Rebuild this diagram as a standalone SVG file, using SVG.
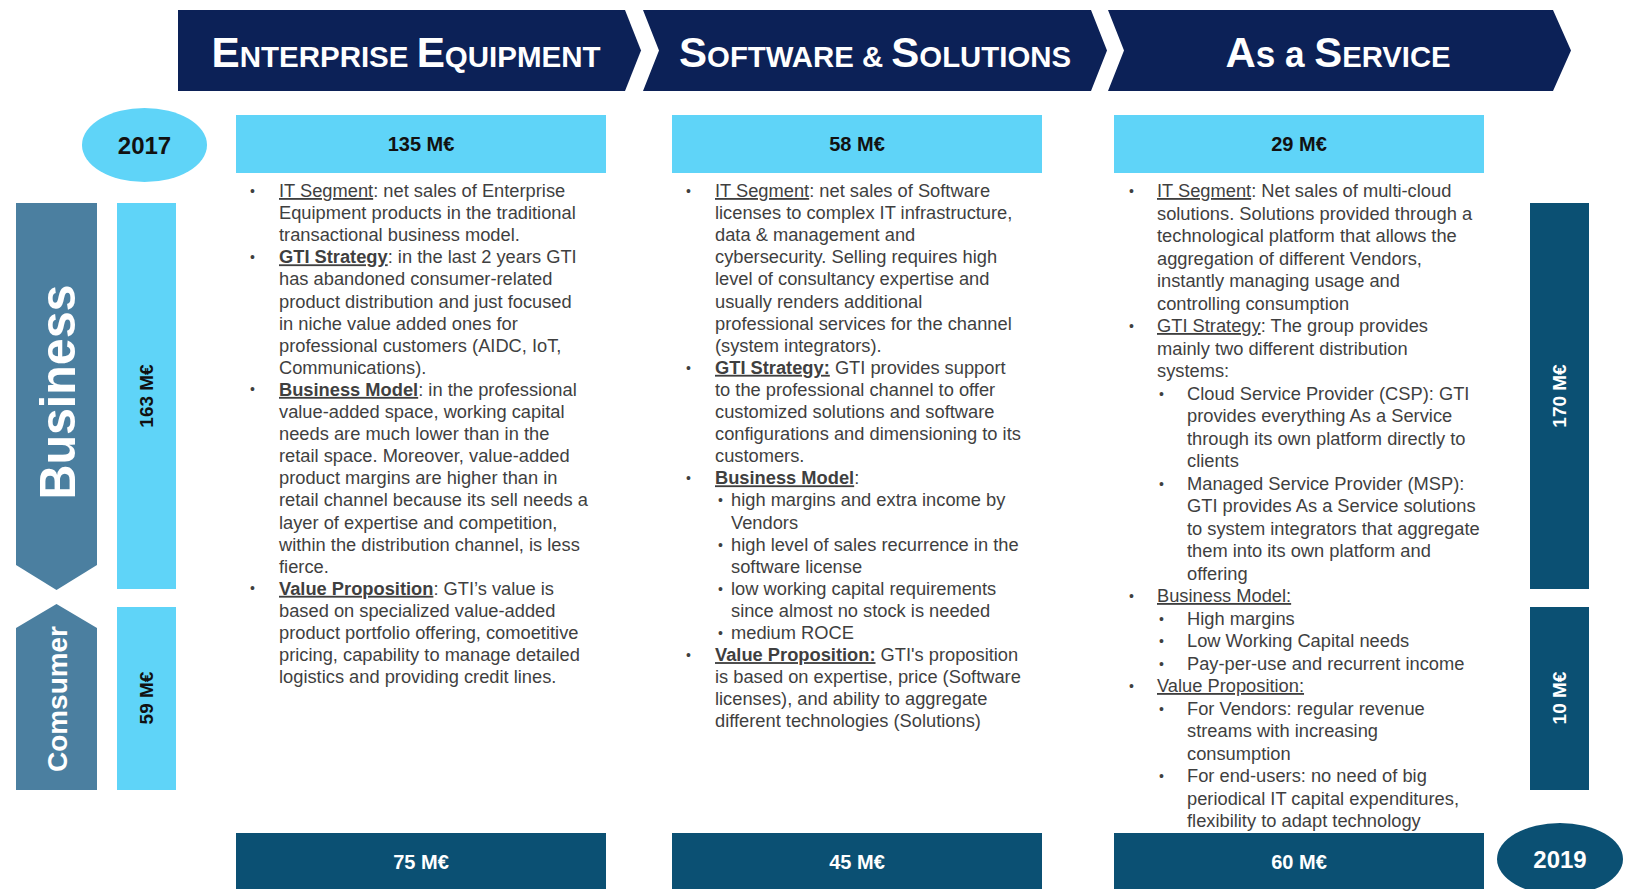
<svg xmlns="http://www.w3.org/2000/svg" width="1625" height="889" viewBox="0 0 1625 889">
<style>
text{font-family:"Liberation Sans",Arial,sans-serif}
.nav{fill:#0c2157}
.lb{fill:#5fd4f8}
.dk{fill:#0b5073}
.sb{fill:#4b7fa0}
.hd{fill:#fff;font-weight:bold}
.big{font-size:43px}
.sm{font-size:30px}
.val{font-size:20px;font-weight:bold;text-anchor:middle}
.vb{font-size:19px;font-weight:bold;text-anchor:middle}
.body{font-size:18.3px;fill:#3f3f3f}
.u{text-decoration:underline}
.b{font-weight:bold}
.bul{font-size:14px;fill:#3f3f3f}
</style>

<g id="banners">
  <g id="banner-enterprise">
    <polygon class="nav" points="178,10 625,10 641,50.5 625,91 178,91"/>
    <text class="hd" x="406" y="67" text-anchor="middle" textLength="389" lengthAdjust="spacingAndGlyphs"><tspan class="big">E</tspan><tspan class="sm">NTERPRISE </tspan><tspan class="big">E</tspan><tspan class="sm">QUIPMENT</tspan></text>
  </g>
  <g id="banner-software">
    <polygon class="nav" points="643,10 1091,10 1107,50.5 1091,91 643,91 659,50.5"/>
    <text class="hd" x="875" y="67" text-anchor="middle" textLength="392" lengthAdjust="spacingAndGlyphs"><tspan class="big">S</tspan><tspan class="sm">OFTWARE &amp; </tspan><tspan class="big">S</tspan><tspan class="sm">OLUTIONS</tspan></text>
  </g>
  <g id="banner-service">
    <polygon class="nav" points="1108,10 1553,10 1571,50.5 1553,91 1108,91 1124,50.5"/>
    <text class="hd" x="1338" y="67" text-anchor="middle" textLength="225" lengthAdjust="spacingAndGlyphs"><tspan class="big">A</tspan><tspan font-size="36px">s a </tspan><tspan class="big">S</tspan><tspan class="sm">ERVICE</tspan></text>
  </g>
</g>

<g id="year-2017">
  <ellipse class="lb" cx="144.5" cy="145" rx="62.5" ry="37"/>
  <text x="144.5" y="154" font-size="24" font-weight="bold" fill="#111" text-anchor="middle">2017</text>
</g>
<g id="year-2019">
  <ellipse class="dk" cx="1560" cy="859" rx="63" ry="36"/>
  <text x="1560" y="868" font-size="24" font-weight="bold" fill="#fff" text-anchor="middle">2019</text>
</g>

<g id="top-values">
  <g id="v135"><rect class="lb" x="236" y="115" width="370" height="58"/><text class="val" x="421" y="151" fill="#111">135 M€</text></g>
  <g id="v58"><rect class="lb" x="672" y="115" width="370" height="58"/><text class="val" x="857" y="151" fill="#111">58 M€</text></g>
  <g id="v29"><rect class="lb" x="1114" y="115" width="370" height="58"/><text class="val" x="1299" y="151" fill="#111">29 M€</text></g>
</g>

<g id="bottom-values">
  <g id="v75"><rect class="dk" x="236" y="833" width="370" height="56"/><text class="val" x="421" y="869" fill="#fff">75 M€</text></g>
  <g id="v45"><rect class="dk" x="672" y="833" width="370" height="56"/><text class="val" x="857" y="869" fill="#fff">45 M€</text></g>
  <g id="v60"><rect class="dk" x="1114" y="833" width="370" height="56"/><text class="val" x="1299" y="869" fill="#fff">60 M€</text></g>
</g>

<g id="segment-business">
  <polygon class="sb" points="16,203 97,203 97,565 56.5,590 16,565"/>
  <text transform="translate(75,392) rotate(-90)" x="0" y="0" font-size="50" font-weight="bold" fill="#fff" text-anchor="middle" textLength="215" lengthAdjust="spacingAndGlyphs">Business</text>
</g>
<g id="segment-consumer">
  <polygon class="sb" points="56.5,604 97,628 97,790 16,790 16,628"/>
  <text transform="translate(67,699) rotate(-90)" x="0" y="0" font-size="28" font-weight="bold" fill="#fff" text-anchor="middle" textLength="146" lengthAdjust="spacingAndGlyphs">Comsumer</text>
</g>

<g id="bar-163">
  <rect class="lb" x="117" y="203" width="59" height="386"/>
  <text class="vb" transform="translate(153,396) rotate(-90)" fill="#111">163 M€</text>
</g>
<g id="bar-59">
  <rect class="lb" x="117" y="607" width="59" height="183"/>
  <text class="vb" transform="translate(153,698) rotate(-90)" fill="#111">59 M€</text>
</g>
<g id="bar-170">
  <rect class="dk" x="1530" y="203" width="59" height="386"/>
  <text class="vb" transform="translate(1566,396) rotate(-90)" fill="#fff">170 M€</text>
</g>
<g id="bar-10">
  <rect class="dk" x="1530" y="607" width="59" height="183"/>
  <text class="vb" transform="translate(1566,698) rotate(-90)" fill="#fff">10 M€</text>
</g>

<g id="col-enterprise" class="body">
  <text class="bul" x="250" y="196">•</text>
  <text class="bul" x="250" y="262">•</text>
  <text class="bul" x="250" y="394">•</text>
  <text class="bul" x="250" y="593">•</text>
  <text class="body" x="279" y="197"><tspan class="u">IT Segment</tspan>: net sales of Enterprise</text>
  <text class="body" x="279" y="219.1">Equipment products in the traditional</text>
  <text class="body" x="279" y="241.2">transactional business model.</text>
  <text class="body" x="279" y="263.3"><tspan class="u b">GTI Strategy</tspan>: in the last 2 years GTI</text>
  <text class="body" x="279" y="285.4">has abandoned consumer-related</text>
  <text class="body" x="279" y="307.5">product distribution and just focused</text>
  <text class="body" x="279" y="329.6">in niche value added ones for</text>
  <text class="body" x="279" y="351.7">professional customers (AIDC, IoT,</text>
  <text class="body" x="279" y="373.8">Communications).</text>
  <text class="body" x="279" y="395.9"><tspan class="u b">Business Model</tspan>: in the professional</text>
  <text class="body" x="279" y="418">value-added space, working capital</text>
  <text class="body" x="279" y="440.1">needs are much lower than in the</text>
  <text class="body" x="279" y="462.2">retail space. Moreover, value-added</text>
  <text class="body" x="279" y="484.3">product margins are higher than in</text>
  <text class="body" x="279" y="506.4">retail channel because its sell needs a</text>
  <text class="body" x="279" y="528.5">layer of expertise and competition,</text>
  <text class="body" x="279" y="550.6">within the distribution channel, is less</text>
  <text class="body" x="279" y="572.7">fierce.</text>
  <text class="body" x="279" y="594.8"><tspan class="u b">Value Proposition</tspan>: GTI’s value is</text>
  <text class="body" x="279" y="616.9">based on specialized value-added</text>
  <text class="body" x="279" y="639">product portfolio offering, comoetitive</text>
  <text class="body" x="279" y="661.1">pricing, capability to manage detailed</text>
  <text class="body" x="279" y="683.2">logistics and providing credit lines.</text>
</g>

<g id="col-software" class="body">
  <text class="bul" x="686" y="196">•</text>
  <text class="bul" x="686" y="372.8">•</text>
  <text class="bul" x="686" y="483.3">•</text>
  <text class="bul" x="686" y="660.1">•</text>
  <text class="bul" x="718" y="505.4">•</text>
  <text class="bul" x="718" y="549.6">•</text>
  <text class="bul" x="718" y="593.8">•</text>
  <text class="bul" x="718" y="638">•</text>
  <text class="body" x="715" y="197"><tspan class="u">IT Segment</tspan>: net sales of Software</text>
  <text class="body" x="715" y="219.1">licenses to complex IT infrastructure,</text>
  <text class="body" x="715" y="241.2">data &amp; management and</text>
  <text class="body" x="715" y="263.3">cybersecurity. Selling requires high</text>
  <text class="body" x="715" y="285.4">level of consultancy expertise and</text>
  <text class="body" x="715" y="307.5">usually renders additional</text>
  <text class="body" x="715" y="329.6">professional services for the channel</text>
  <text class="body" x="715" y="351.7">(system integrators).</text>
  <text class="body" x="715" y="373.8"><tspan class="u b">GTI Strategy:</tspan> GTI provides support</text>
  <text class="body" x="715" y="395.9">to the professional channel to offer</text>
  <text class="body" x="715" y="418">customized solutions and software</text>
  <text class="body" x="715" y="440.1">configurations and dimensioning to its</text>
  <text class="body" x="715" y="462.2">customers.</text>
  <text class="body" x="715" y="484.3"><tspan class="u b">Business Model</tspan>:</text>
  <text class="body" x="731" y="506.4">high margins and extra income by</text>
  <text class="body" x="731" y="528.5">Vendors</text>
  <text class="body" x="731" y="550.6">high level of sales recurrence in the</text>
  <text class="body" x="731" y="572.7">software license</text>
  <text class="body" x="731" y="594.8">low working capital requirements</text>
  <text class="body" x="731" y="616.9">since almost no stock is needed</text>
  <text class="body" x="731" y="639">medium ROCE</text>
  <text class="body" x="715" y="661.1"><tspan class="u b">Value Proposition:</tspan> GTI's proposition</text>
  <text class="body" x="715" y="683.2">is based on expertise, price (Software</text>
  <text class="body" x="715" y="705.3">licenses), and ability to aggregate</text>
  <text class="body" x="715" y="727.4">different technologies (Solutions)</text>
</g>

<g id="col-service" class="body">
  <text class="bul" x="1129" y="196">•</text>
  <text class="bul" x="1129" y="331">•</text>
  <text class="bul" x="1129" y="601">•</text>
  <text class="bul" x="1129" y="691">•</text>
  <text class="bul" x="1159" y="398.5">•</text>
  <text class="bul" x="1159" y="488.5">•</text>
  <text class="bul" x="1159" y="623.5">•</text>
  <text class="bul" x="1159" y="646">•</text>
  <text class="bul" x="1159" y="668.5">•</text>
  <text class="bul" x="1159" y="713.5">•</text>
  <text class="bul" x="1159" y="781">•</text>
  <text class="body" x="1157" y="197"><tspan class="u">IT Segment</tspan>: Net sales of multi-cloud</text>
  <text class="body" x="1157" y="219.5">solutions. Solutions provided through a</text>
  <text class="body" x="1157" y="242">technological platform that allows the</text>
  <text class="body" x="1157" y="264.5">aggregation of different Vendors,</text>
  <text class="body" x="1157" y="287">instantly managing usage and</text>
  <text class="body" x="1157" y="309.5">controlling consumption</text>
  <text class="body" x="1157" y="332"><tspan class="u">GTI Strategy</tspan>: The group provides</text>
  <text class="body" x="1157" y="354.5">mainly two different distribution</text>
  <text class="body" x="1157" y="377">systems:</text>
  <text class="body" x="1187" y="399.5">Cloud Service Provider (CSP): GTI</text>
  <text class="body" x="1187" y="422">provides everything As a Service</text>
  <text class="body" x="1187" y="444.5">through its own platform directly to</text>
  <text class="body" x="1187" y="467">clients</text>
  <text class="body" x="1187" y="489.5">Managed Service Provider (MSP):</text>
  <text class="body" x="1187" y="512">GTI provides As a Service solutions</text>
  <text class="body" x="1187" y="534.5">to system integrators that aggregate</text>
  <text class="body" x="1187" y="557">them into its own platform and</text>
  <text class="body" x="1187" y="579.5">offering</text>
  <text class="body" x="1157" y="602"><tspan class="u">Business Model:</tspan></text>
  <text class="body" x="1187" y="624.5">High margins</text>
  <text class="body" x="1187" y="647">Low Working Capital needs</text>
  <text class="body" x="1187" y="669.5">Pay-per-use and recurrent income</text>
  <text class="body" x="1157" y="692"><tspan class="u">Value Proposition:</tspan></text>
  <text class="body" x="1187" y="714.5">For Vendors: regular revenue</text>
  <text class="body" x="1187" y="737">streams with increasing</text>
  <text class="body" x="1187" y="759.5">consumption</text>
  <text class="body" x="1187" y="782">For end-users: no need of big</text>
  <text class="body" x="1187" y="804.5">periodical IT capital expenditures,</text>
  <text class="body" x="1187" y="827">flexibility to adapt technology</text>
</g>
</svg>
